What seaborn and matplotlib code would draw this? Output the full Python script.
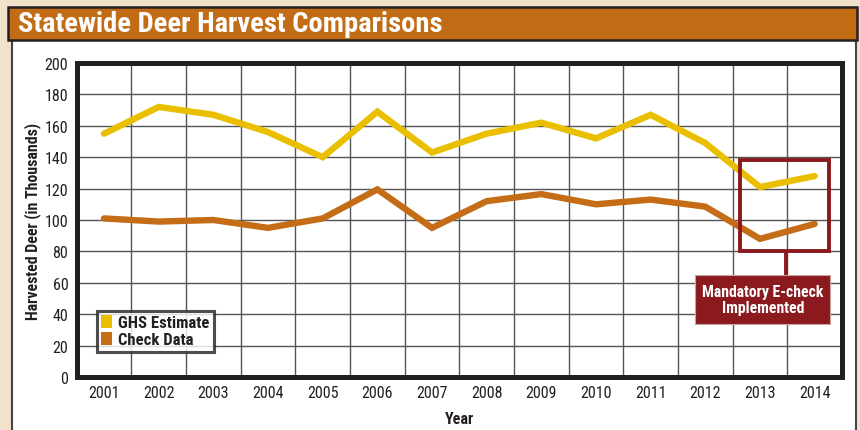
import numpy as np
import pandas as pd
import matplotlib
matplotlib.use("Agg")
import matplotlib.pyplot as plt
from matplotlib.patches import Rectangle, Patch
import seaborn as sns

years = [2001, 2002, 2003, 2004, 2005, 2006, 2007, 2008, 2009, 2010, 2011, 2012, 2013, 2014]
ghs_estimate = [155, 172, 167, 156, 140, 169, 143, 155, 162, 152, 167, 149, 121, 128]
check_data = [101, 99, 100, 95, 101, 119.5, 95, 112, 116.5, 110, 113, 108.5, 88, 97.5]
series_names = ["GHS Estimate", "Check Data"]
y_ticks = [0, 20, 40, 60, 80, 100, 120, 140, 160, 180, 200]

title = "Statewide Deer Harvest Comparisons"
note = "Mandatory E-check\nImplemented"

YELLOW = "#e9bf00"
ORANGE = "#c46d16"
DARKRED = "#8b1a1e"
BEIGE = "#f3e2cb"
HEADER = "#c26c15"
DARK = "#231f20"

sns.set_theme(style="white")
FONT = ["Liberation Sans Narrow", "DejaVu Sans Condensed", "Roboto Condensed",
        "Open Sans Condensed", "Liberation Sans", "DejaVu Sans"]
plt.rcParams["font.family"] = FONT

df = pd.DataFrame({
    "Year": years * 2,
    "Value": ghs_estimate + check_data,
    "Series": [series_names[0]] * len(years) + [series_names[1]] * len(years),
})

W, H = 860, 431
fig = plt.figure(figsize=(W / 100, H / 100), dpi=100, facecolor=BEIGE)

# white panel and header
fig.patches.append(Rectangle((12 / W, -0.02), 844 / W, (H - 41) / H + 0.02,
                             transform=fig.transFigure, facecolor="white",
                             edgecolor="#444444", linewidth=1.5, zorder=-2))
fig.patches.append(Rectangle((8 / W, (H - 41) / H), 849 / W, 33 / H,
                             transform=fig.transFigure, facecolor=HEADER,
                             edgecolor=DARK, linewidth=1.8, zorder=-1))
fig.text(18 / W, (H - 25) / H, title, color="white", fontsize=20.5,
         fontweight="bold", va="center", ha="left", family=FONT)

ax = fig.add_axes([76.7 / W, (H - 378) / H, (842 - 76.7) / W, (378 - 64) / H])
ax.set_zorder(3)
ax.set_facecolor("white")

sns.lineplot(data=df, x="Year", y="Value", hue="Series",
             palette={series_names[0]: YELLOW, series_names[1]: ORANGE},
             linewidth=4.6, ax=ax, legend=False, sort=False)
for ln in ax.lines:
    ln.set_solid_capstyle("round")
    ln.set_solid_joinstyle("miter")

ax.set_xlim(years[0] - 0.5, years[-1] + 0.5)
ax.set_ylim(0, 200)
ax.set_yticks(y_ticks)
ax.set_xticks(years)
ax.set_xticklabels([str(y) for y in years])
ax.set_xticks(np.arange(years[0] - 0.5, years[-1] + 0.6, 1), minor=True)
ax.grid(False)
ax.grid(True, axis="y", which="major", color="#555555", linewidth=1.0)
ax.grid(True, axis="x", which="minor", color="#555555", linewidth=1.0)
ax.set_axisbelow(True)
ax.tick_params(axis="both", which="both", length=0, labelsize=11.5,
               labelcolor="#231f20", pad=6)
for sp in ax.spines.values():
    sp.set_visible(True)
    sp.set_color(DARK)
    sp.set_linewidth(3.6)

ax.set_xlabel("Year", fontsize=11.5, fontweight="bold", color=DARK, labelpad=8)
ax.set_ylabel("Harvested Deer (in Thousands)", fontsize=11.4, fontweight="bold",
              color=DARK, labelpad=3)

# legend
handles = [Patch(facecolor=YELLOW, edgecolor="none"),
           Patch(facecolor=ORANGE, edgecolor="none")]
leg = ax.legend(handles, series_names, loc="lower left",
                bbox_to_anchor=(0.026, 0.08), borderaxespad=0,
                frameon=True, fancybox=False, handlelength=0.65,
                handleheight=0.8, handletextpad=0.35, labelspacing=0.1,
                borderpad=0.28, prop={"weight": "bold", "size": 12, "family": FONT})
leg.get_frame().set_edgecolor(DARK)
leg.get_frame().set_linewidth(2.2)
for t in leg.get_texts():
    t.set_color(DARK)

# annotation box around 2013-2014
ax.add_patch(Rectangle((2012.63, 80.3), 13.27 - 11.63, 138 - 80.3,
                       facecolor="none", edgecolor=DARKRED, linewidth=2.8,
                       zorder=5))
ax.plot([2013.48, 2013.48], [80.3, 64.7], color=DARKRED, linewidth=2.8,
        zorder=5, solid_capstyle="butt")
ax.add_patch(Rectangle((2011.82, 33.9), 2014.28 - 2011.82, 64.7 - 33.9,
                       facecolor=DARKRED, edgecolor="#c9a0a0", linewidth=0.8,
                       zorder=6))
ax.text((2011.82 + 2014.28) / 2, (33.9 + 64.7) / 2, note, color="white",
        fontsize=11.3, fontweight="bold", ha="center", va="center",
        linespacing=1.1, zorder=7, family=FONT)

fig.savefig("out.png", dpi=100, facecolor=BEIGE)
